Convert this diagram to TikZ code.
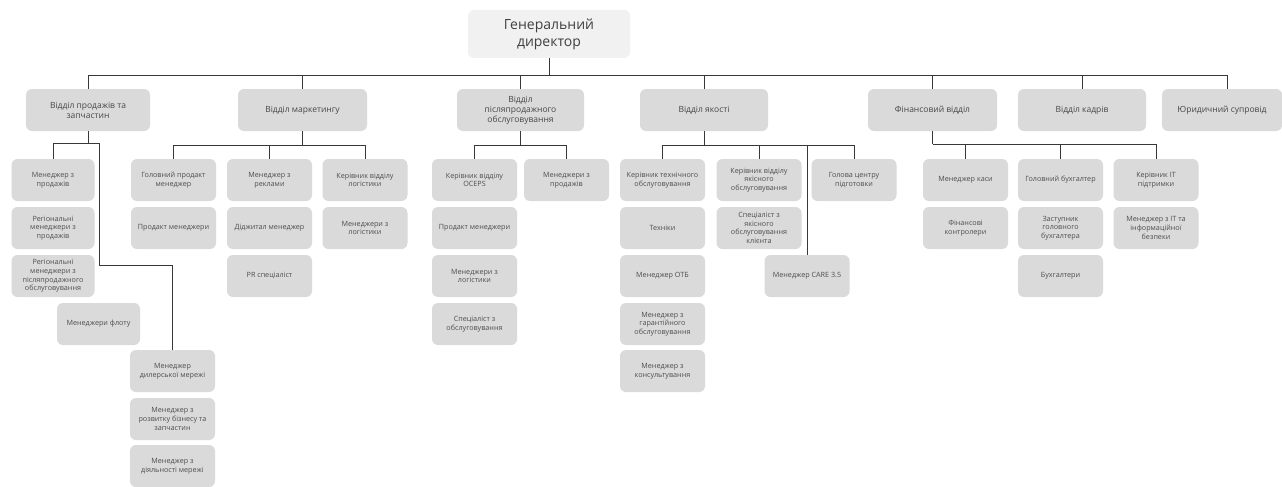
\documentclass[tikz,border=0pt]{standalone}
\usepackage{fontspec}
\setmainfont{Open Sans}
\begin{document}
\begin{tikzpicture}[x=1pt,y=-1pt,
  every node/.style={inner sep=1pt},
  base/.style={fill=boxgray, rounded corners=6pt, align=center, text=txtgray},
  topbox/.style={base, fill=topgray, minimum width=162pt, minimum height=48pt, font=\fontsize{14}{17}\selectfont, text=black!75},
  deptbox/.style={base, minimum height=42pt, font=\fontsize{8.5}{10}\selectfont, text=black!72},
  cbox/.style={base, minimum width=85pt, minimum height=42pt, font=\fontsize{7.2}{8.6}\selectfont},
  conn/.style={draw=black!78, line width=0.7pt}
]
\definecolor{boxgray}{HTML}{DADADA}
\definecolor{topgray}{HTML}{F1F1F1}
\definecolor{txtgray}{HTML}{4E4E4E}
\useasboundingbox (0,0) rectangle (1282,487);
\fill[white] (0,0) rectangle (1282,487);

% top
\node[topbox] (gd) at (549,34) {Генеральний\\директор};

% departments
\node[deptbox, minimum width=124pt] (d1) at (88,110) {Відділ продажів та\\запчастин};
\node[deptbox, minimum width=129pt] (d2) at (302.5,110) {Відділ маркетингу};
\node[deptbox, minimum width=127pt] (d3) at (520.5,110) {Відділ\\післяпродажного\\обслуговування};
\node[deptbox, minimum width=128pt] (d4) at (704,110) {Відділ якості};
\node[deptbox, minimum width=129pt] (d5) at (932.5,110) {Фінансовий відділ};
\node[deptbox, minimum width=128pt] (d6) at (1082,110) {Відділ кадрів};
\node[deptbox, minimum width=120pt] (d7) at (1222,110) {Юридичний супровід};

% sales children
\node[cbox, minimum width=83pt] (s1) at (53,180) {Менеджер з\\продажів};
\node[cbox, minimum width=83pt] (s2) at (53,228) {Регіональні\\менеджери з\\продажів};
\node[cbox, minimum width=83pt] (s3) at (53,276) {Регіональні\\менеджери з\\післяпродажного\\обслуговування};
\node[cbox, minimum width=83pt] (s4) at (98.5,324) {Менеджери флоту};
\node[cbox] (s5) at (172.5,371) {Менеджер\\дилерської мережі};
\node[cbox] (s6) at (172.5,419) {Менеджер з\\розвитку бізнесу та\\запчастин};
\node[cbox] (s7) at (172.5,466) {Менеджер з\\діяльності мережі};

% marketing children
\node[cbox] (m1) at (173.5,180) {Головний продакт\\менеджер};
\node[cbox] (m2) at (173.5,228) {Продакт менеджери};
\node[cbox] (m3) at (269.5,180) {Менеджер з\\реклами};
\node[cbox] (m4) at (269.5,228) {Діджитал менеджер};
\node[cbox] (m5) at (269.5,276) {PR спеціаліст};
\node[cbox] (m6) at (365,180) {Керівник відділу\\логістики};
\node[cbox] (m7) at (365,228) {Менеджери з\\логістики};

% after-sales children
\node[cbox] (a1) at (474.5,180) {Керівник відділу\\OCEPS};
\node[cbox] (a2) at (474.5,228) {Продакт менеджери};
\node[cbox] (a3) at (474.5,276) {Менеджери з\\логістики};
\node[cbox] (a4) at (474.5,324) {Спеціаліст з\\обслуговування};
\node[cbox] (a5) at (566.5,180) {Менеджери з\\продажів};

% quality children
\node[cbox] (q1) at (662.5,180) {Керівник технічного\\обслуговування};
\node[cbox] (q2) at (662.5,228) {Техніки};
\node[cbox] (q3) at (662.5,276) {Менеджер ОТБ};
\node[cbox] (q4) at (662.5,324) {Менеджер з\\гарантійного\\обслуговування};
\node[cbox] (q5) at (662.5,371) {Менеджер з\\консультування};
\node[cbox] (q6) at (759,180) {Керівник відділу\\якісного\\обслуговування};
\node[cbox] (q7) at (759,228) {Спеціаліст з\\якісного\\обслуговування\\клієнта};
\node[cbox] (q8) at (807,276) {Менеджер CARE 3.5};
\node[cbox] (q9) at (854,180) {Голова центру\\підготовки};

% finance children
\node[cbox] (f1) at (965.5,180) {Менеджер каси};
\node[cbox] (f2) at (965.5,228) {Фінансові\\контролери};
\node[cbox] (f3) at (1060.5,180) {Головний бухгалтер};
\node[cbox] (f4) at (1060.5,228) {Заступник\\головного\\бухгалтера};
\node[cbox] (f5) at (1060.5,276) {Бухгалтери};
\node[cbox] (f6) at (1156,180) {Керівник IT\\підтримки};
\node[cbox] (f7) at (1156,228) {Менеджер з IT та\\інформаційної\\безпеки};

% ---- connectors ----
\coordinate (tbus) at (549,75);
\draw[conn] (gd.south) -- (tbus);
\draw[conn] (d1.north |- tbus) -- (1227,75);
\foreach \d in {d1,d2,d3,d4,d5,d6} \draw[conn] (\d.north |- tbus) -- (\d.north);
\draw[conn] (1227,75) -- (1227,89);

% sales
\coordinate (sb) at (88,143);
\coordinate (sr) at (99,143);
\coordinate (sk) at (99,265);
\draw[conn] (d1.south) -- (sb);
\draw[conn] (s1.north |- sb) -- (sr);
\draw[conn] (s1.north |- sb) -- (s1.north);
\draw[conn] (sr) -- (sk) -- (sk -| s5.north) -- (s5.north);

% marketing
\coordinate (mb) at (302.5,145);
\draw[conn] (d2.south) -- (mb);
\draw[conn] (m1.north |- mb) -- (m6.north |- mb);
\foreach \c in {m1,m3,m6} \draw[conn] (\c.north |- mb) -- (\c.north);

% after-sales
\coordinate (ab) at (520.5,145);
\draw[conn] (d3.south) -- (ab);
\draw[conn] (a1.north |- ab) -- (a5.north |- ab);
\foreach \c in {a1,a5} \draw[conn] (\c.north |- ab) -- (\c.north);

% quality
\coordinate (qb) at (704,145);
\draw[conn] (d4.south) -- (qb);
\draw[conn] (q1.north |- qb) -- (q9.north |- qb);
\foreach \c in {q1,q6,q9,q8} \draw[conn] (\c.north |- qb) -- (\c.north);

% finance
\coordinate (fb) at (932.5,144);
\draw[conn] (d5.south) -- (fb);
\draw[conn] (fb) -- (f6.north |- fb);
\foreach \c in {f1,f3,f6} \draw[conn] (\c.north |- fb) -- (\c.north);
\end{tikzpicture}
\end{document}
